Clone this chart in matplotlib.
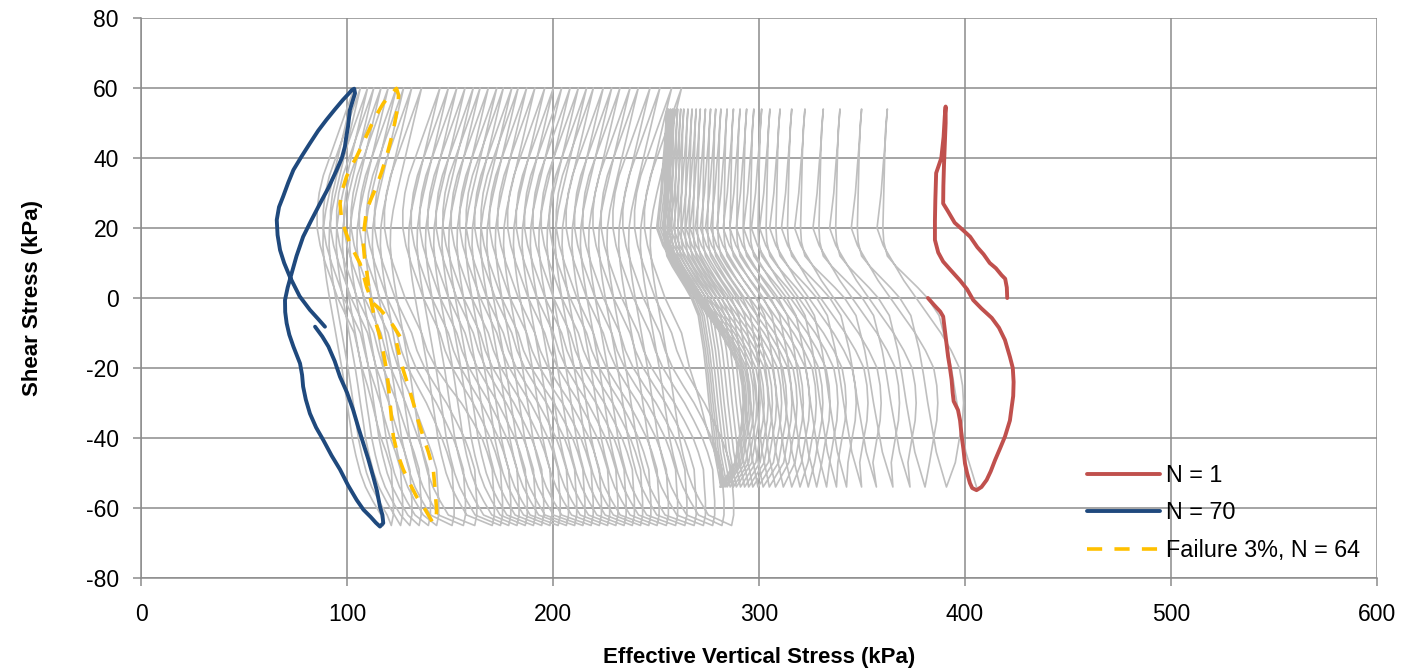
import numpy as np
import matplotlib
matplotlib.use('Agg')
import matplotlib.pyplot as plt

plt.rcParams['font.family'] = ['Liberation Sans', 'DejaVu Sans']
plt.rcParams['axes.unicode_minus'] = False

# --- highlighted cycles (kPa) ---
# N = 1 (first cycle, +-54 kPa)
red_x = [420.5, 420.3, 419.5, 417.8, 415, 412, 409, 406, 402.5, 399, 395, 391.5, 389.4,
         389.5, 389.8, 390.2, 390.6, 390.6, 390.2, 389.6, 388.5, 386, 385.6, 385.4, 385.4,
         387, 389.4, 393, 397.6, 401, 404, 408, 413, 416.5, 419.4, 421.8, 423.2, 423.6,
         423.4, 422.7, 421.8, 419.4, 417, 414.6, 412.5, 410.5, 408, 405.6, 403.5, 402.4,
         401, 400, 399.2, 398.4, 397.6, 396.6, 394.5, 394, 393.5, 392.7, 391.8, 390.6,
         389.4, 388, 385, 382]
red_y = [0, 3, 5.5, 6.5, 8.5, 10, 12.5, 14.5, 17.5, 19.4, 21.5, 25, 27,
         32, 38, 44, 50, 54.7, 52, 46, 40, 35.7, 28, 22, 16.6,
         13, 10.4, 8, 5, 2.5, -0.6, -3, -5.7, -8.5, -12, -16.8, -20, -24,
         -28, -31, -35, -39.6, -43, -46.3, -49.5, -52, -54, -54.9, -54.3, -52.9,
         -50, -47.3, -43, -39.6, -35, -32, -29.5, -27, -23.4, -20, -16.8, -11,
         -5.3, -3.9, -2, 0]

# N = 70
blue_x = [89.3, 86, 82, 77, 72.3, 69.5, 67.5, 66.3, 65.9, 67, 69, 71.5, 74, 78, 82, 86, 90,
          94, 98, 101, 102.3, 103.5, 103.9, 102.6, 101.4, 100.5, 99.5, 99, 97.5, 95, 91,
          86.9, 82.5, 78.7, 75.5, 73.1, 71.2, 69.9, 70, 70.7, 72, 74, 77.2, 78.2, 78.7, 80,
          82, 85, 88.5, 92.5, 96.6, 100.5, 104.7, 108, 111.4, 114, 116, 117.6, 117.2, 116,
          114.5, 112.7, 110.3, 107.9, 105.5, 103, 100, 96.6, 94, 91, 88, 84.5]
blue_y = [-8.2, -6, -3.4, 0.5, 6, 10, 13.7, 18, 22.3, 26, 29, 33, 36.6, 40.5, 44.2, 47.8, 50.9,
          53.8, 56.6, 58.5, 59.4, 59.8, 58.5, 56, 53.7, 49, 45.5, 43.3, 40, 36.6, 31.5,
          27, 22, 17.5, 12, 7, 3, -0.6, -4, -7.2, -10.5, -13.9, -18.7, -22, -25.3, -29,
          -33, -37, -40.6, -45, -49, -53.5, -57.7, -60.5, -62.5, -64.2, -65.3, -64.3, -62, -59.6,
          -55, -51, -46, -41.5, -37, -32, -27, -22.5, -18, -13.9, -11, -8.2]

# Failure 3 %, N = 64
yel_x = [125.7, 122.5, 119.2, 116, 112.7, 111, 109.5, 108, 106.3, 104, 101.4, 99.3, 97.4,
         96.6, 97.8, 99.8, 102, 104.7, 108, 111.4, 114.5, 117.6, 121, 124, 125, 124.9,
         123.8, 122.5, 120.8, 119.2, 116.8, 114.3, 111.8, 109.5, 108.4, 107.9, 108.5,
         109.5, 110.3, 111.2, 112.4, 113.6, 116, 117.8, 119.2, 120.1, 120.9, 121.7, 122.5,
         124.5, 127.3, 130.5, 133.8, 138, 141.9, 143.3, 143.5, 142.8, 141.9, 139.5, 137,
         134.5, 132.2, 129.7, 127.3, 125.5, 124.1]
yel_y = [-11, -8, -5.3, -3.2, -1.5, 0.8, 3.2, 6.5, 9.9, 12.5, 15.6, 19, 22.3,
         27, 31, 34.7, 37.5, 40.4, 44.5, 48.9, 52.5, 55.6, 58, 59.9, 58, 55.6,
         52, 48, 44, 40.4, 36, 31.8, 28.5, 25.1, 20, 15.6, 11.5,
         8, 4, 0.4, -3, -6.3, -11, -16, -20.6, -25, -30, -35, -39.6,
         -44.5, -49, -53, -56.8, -60.5, -64.4, -63, -60.6, -55, -49, -44, -39.6,
         -35, -30, -25, -20.6, -16.5, -12.9]

# --- all other cycles (grey): peak positions per cycle ---
# stage 1, +-54 kPa, N = 1..31 : sigma' at +54 and at -54
b_top = [390.6, 362.3, 349.8, 339.3, 331.2, 322.3, 315.9, 310.2, 305.3, 301.3, 297.5, 294,
         290.8, 287.6, 284.5, 281.5, 279, 276.5, 274, 271.5, 269.5, 267.5, 265.5, 263.5,
         262, 260.5, 259, 258, 257, 256, 255.3]
b_bot = [405.6, 391, 380.6, 373.3, 365, 357, 349.8, 342.5, 337.6, 332.8, 328, 323.9,
         319.9, 315.9, 311.8, 308, 305, 302, 299.5, 297, 295, 293, 291, 289, 287.5, 286,
         284.5, 283.5, 282.5, 281.5, 281]
# stage 2, +60 / -65 kPa, N = 32..70 : sigma' at +60 and at -65
a_top = [262.4, 257.6, 251.9, 247.1, 241.4, 237.4, 232.5, 228.5, 224.4, 219.6, 216.3, 212.3,
         208.3, 204.2, 200.2, 196.0, 191.2, 187.2, 183.1, 180.0, 175.9, 172.7, 168.6, 164.6,
         161.3, 157.3, 153.3, 149.2, 145.1, 136.2, 131.4, 127.5, 124.0, 120.0, 116.5, 113.0,
         110.0, 106.5, 103.5]
a_bot = [286.7, 282.0, 277.5, 273.0, 268.5, 264.0, 259.5, 255.0, 250.5, 246.5, 242.5, 238.5,
         234.5, 230.5, 226.5, 222.5, 218.5, 214.5, 210.5, 206.5, 202.5, 198.5, 194.5, 190.5,
         186.5, 182.5, 178.5, 174.5, 170.5, 162.0, 156.5, 151.0, 143.5, 139.5, 135.0, 130.5,
         126.0, 121.5, 117.6]

# loop shape of a grey cycle (offsets in kPa), taken from the plotted loops
B_DESC_TAU = [54, 50, 45, 38, 30, 25, 20, 15, 10, 5, 0, -5, -10, -15, -20, -25, -30, -35,
              -40, -47, -54]
B_DESC_DX = [0, -0.5, -1, -2, -3, -4, -5, -2, 3, 8, 14, 20, 26, 31, 35, 36.5, 37, 36.5,
             35, 33]
B_ASC_TAU = [-54, -49, -44, -37, -30, -22, -15, -10, -5, 0, 3, 6, 9, 12, 16, 20, 30, 40,
             48, 54]
B_ASC_H = [0, .06, .12, .17, .22, .27, .32, .37, .42, .55, .66, .78, .9, 1.0, 1.04, 1.05,
           1.04, 1.03, 1.02, 1.0]
A_DESC_TAU = [60, 55, 50, 45, 40, 35, 30, 25, 20, 15, 10, 5, 0, -5, -10, -15, -20, -25,
              -30, -35, -40, -45, -50, -54, -58, -62, -65]
A_DESC_DX = [0, -2, -4, -6, -8, -10, -12, -13.8, -15, -15.2, -14.5, -13.4, -12, -10.5, -9,
             -7.5, -6, -4.7, -3.5, -2.2, -1, 0.8, 3, 5.5, 9, 13]
# ascending branch: offsets from the bottom (lo) and from the next top (hi), blended by w
A_ASC_TAU = [-65, -62, -58, -54, -49, -44, -40, -35, -30, -25, -20, -15, -10, -5, 0, 5,
             10, 15, 20, 25, 30, 35, 40, 45, 50, 55, 60]
A_ASC_LO = [0, 1, 1, 0.5, 0, -2.5, -5, -7.5, -10, -12.5, -15, -17.5, -20, -22, -24, -26,
            -28, -30, -32, -33, -34, -34, -34, -34, -34, -34, -34]
A_ASC_HI = [20, 20, 19, 18, 17, 15, 14, 12, 10, 7, 4, 2, 0, -4, -8, -11, -14, -16.5, -18,
            -18, -17, -15, -12, -9, -6, -3, 0]
A_ASC_W = [0, 0, 0, 0, 0, 0, 0, .15, .35, .6, .8, .95, 1, 1, 1, 1, 1, 1, 1, 1, 1, 1, 1, 1,
           1, 1, 1]


def desc(t, b, dx, tau):
    return [t + d for d in dx] + [b], list(tau)


def asc_b(b, t):
    return [b + (t - b) * h for h in B_ASC_H], list(B_ASC_TAU)


def asc_a(b, t, from_tau=-65):
    xs, ys = [], []
    for ta, lo, hi, w in zip(A_ASC_TAU, A_ASC_LO, A_ASC_HI, A_ASC_W):
        if ta >= from_tau:
            xs.append((1 - w) * (b + lo) + w * (t + hi))
            ys.append(ta)
    return xs, ys


gx, gy = [], []
for k in range(1, len(b_top)):
    for seg in (asc_b(b_bot[k - 1], b_top[k]),
                desc(b_top[k], b_bot[k], B_DESC_DX, B_DESC_TAU)):
        gx += seg[0]
        gy += seg[1]
sx, sy = asc_a(b_bot[-1], a_top[0], from_tau=-54)
gx += sx
gy += sy
for k in range(len(a_top)):
    if k > 0:
        sx, sy = asc_a(a_bot[k - 1], a_top[k])
        gx += sx
        gy += sy
    sx, sy = desc(a_top[k], a_bot[k], A_DESC_DX, A_DESC_TAU)
    gx += sx
    gy += sy

fig = plt.figure(figsize=(14.16, 6.71), dpi=100)
ax = fig.add_axes([141 / 1416, 1 - 578 / 671, 1236 / 1416, 560 / 671])

ax.plot(gx, gy, color='#BFBFBF', lw=1.2, zorder=2)
l3, = ax.plot(yel_x, yel_y, color='#FFC000', lw=2.6, dashes=(4.2, 3.4), zorder=3,
              label='Failure 3%, N = 64')
l2, = ax.plot(blue_x, blue_y, color='#1F497D', lw=2.8, solid_capstyle='round', zorder=4,
              label='N = 70')
l1, = ax.plot(red_x, red_y, color='#C0504D', lw=2.8, solid_capstyle='round', zorder=5,
              label='N = 1')

ax.set_xlim(0, 600)
ax.set_ylim(-80, 80)
ax.set_xticks(np.arange(0, 601, 100))
ax.set_yticks(np.arange(-80, 81, 20))
ax.grid(True, color='#8C8C8C', lw=1.1)
ax.set_axisbelow(True)
for s in ['top', 'right']:
    ax.spines[s].set_visible(False)
for s in ['left', 'bottom']:
    ax.spines[s].set_color('#8C8C8C')
    ax.spines[s].set_linewidth(1.1)
ax.tick_params(direction='out', length=6, width=1.1, color='#8C8C8C',
               labelsize=16.5, labelcolor='black')
ax.tick_params(axis='y', pad=10)
ax.tick_params(axis='x', pad=12)

ax.set_xlabel('Effective Vertical Stress (kPa)', fontsize=16, fontweight='bold', labelpad=15)
ax.set_ylabel('Shear Stress (kPa)', fontsize=16, fontweight='bold', labelpad=31)

ax.legend(handles=[l1, l2, l3], loc='lower right', bbox_to_anchor=(0.9935, 0.0125),
          borderaxespad=0, frameon=False, fontsize=16.8, handlelength=3.1,
          handletextpad=0.25, labelspacing=0.62)

fig.savefig('out.png', dpi=100)
